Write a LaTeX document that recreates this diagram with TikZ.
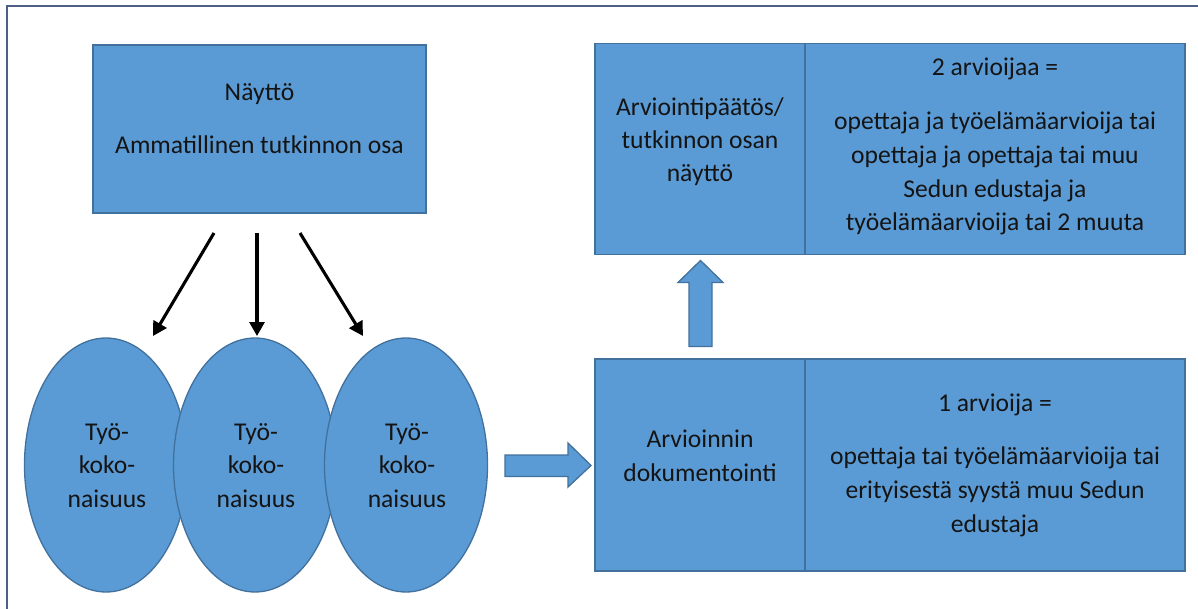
\documentclass[tikz,border=0pt]{standalone}
\usepackage{fontspec}
\setmainfont{Carlito}
\usetikzlibrary{arrows.meta,shapes.geometric}
\definecolor{boxfill}{HTML}{5B9BD5}
\definecolor{boxline}{HTML}{41719C}
\definecolor{framecol}{HTML}{4E5F86}
\definecolor{textcol}{HTML}{141414}
\tikzset{
  box/.style={draw=boxline, fill=boxfill, line width=1.3pt, inner sep=0pt},
  oval/.style={ellipse, draw=boxline, fill=boxfill, line width=1.3pt, inner sep=0pt, minimum width=163pt, minimum height=254pt},
  txt/.style={anchor=base, inner sep=0pt, text=textcol, font=\fontsize{25.6}{33.5}\selectfont},
  thinarrow/.style={draw=black, line width=3.1pt, -{Triangle[length=14pt,width=15pt]}},
  blockarrow/.style={draw=boxline, fill=boxfill, line width=1.3pt, line join=miter},
  divider/.style={draw=boxline, line width=1.3pt}
}
\begin{document}
\begin{tikzpicture}[x=1pt,y=-1pt]
\useasboundingbox (0,0) rectangle (1198,609);
\fill[white] (0,0) rectangle (1198,609);
\draw[framecol, line width=2.6pt] (7,612) -- (7,6) -- (1200,6);

% top-left box
\node[box, minimum width=333pt, minimum height=168pt] (naytto) at (259.5,129) {};
\node[txt] (t1) at (259.5,101) {Näyttö};
\node[txt] (t2) at (259.5,154) {Ammatillinen tutkinnon osa};

% ellipses
\node[oval] (e1) at (106,465) {};
\node[oval] (e2) at (255,465) {};
\node[oval] (e3) at (406,465) {};
\foreach \e/\x in {e1/107,e2/256,e3/407}{
  \node[txt] (\e a) at (\x,440) {Työ-};
  \node[txt] (\e b) at (\x,473.5) {koko-};
  \node[txt] (\e c) at (\x,507) {naisuus};
}

% thin arrows
\coordinate (s1) at (214,233);
\coordinate (s2) at (257,233);
\coordinate (s3) at (300,233);
\coordinate (d1) at (153,336);
\coordinate (d2) at (257,336);
\coordinate (d3) at (363,336);
\draw[thinarrow] (s1) -- (d1);
\draw[thinarrow] (s2) -- (d2);
\draw[thinarrow] (s3) -- (d3);

% right boxes
\node[box, minimum width=590pt, minimum height=211pt] (top) at (890,149) {};
\draw[divider] (805,43.5) -- (805,254.5);
\node[box, minimum width=590pt, minimum height=212pt] (bot) at (890,465) {};
\draw[divider] (805,359) -- (805,571);

\node[txt] (a1) at (700,116) {Arviointipäätös/};
\node[txt] (a2) at (700,149) {tutkinnon osan};
\node[txt] (a3) at (700,182) {näyttö};
\node[txt] (b1) at (995,76) {2 arvioijaa =};
\node[txt] (b2) at (995,130) {opettaja ja työelämäarvioija tai};
\node[txt] (b3) at (995,164) {opettaja ja opettaja tai muu};
\node[txt] (b4) at (995,198) {Sedun edustaja ja};
\node[txt] (b5) at (995,231) {työelämäarvioija tai 2 muuta};

\node[txt] (c1) at (700,447) {Arvioinnin};
\node[txt] (c2) at (700,481) {dokumentointi};
\node[txt] (d1t) at (995,411) {1 arvioija =};
\node[txt] (d2t) at (995,464) {opettaja tai työelämäarvioija tai};
\node[txt] (d3t) at (995,498) {erityisestä syystä muu Sedun};
\node[txt] (d4t) at (995,532) {edustaja};

% block arrows
\draw[blockarrow] (505,455) -- (568,455) -- (568,443) -- (591,465.5) -- (568,487) -- (568,476.5) -- (505,476.5) -- cycle;
\draw[blockarrow] (689,346.5) -- (689,282.5) -- (678,282.5) -- (700.5,260.5) -- (723,282.5) -- (712,282.5) -- (712,346.5) -- cycle;
\end{tikzpicture}
\end{document}
